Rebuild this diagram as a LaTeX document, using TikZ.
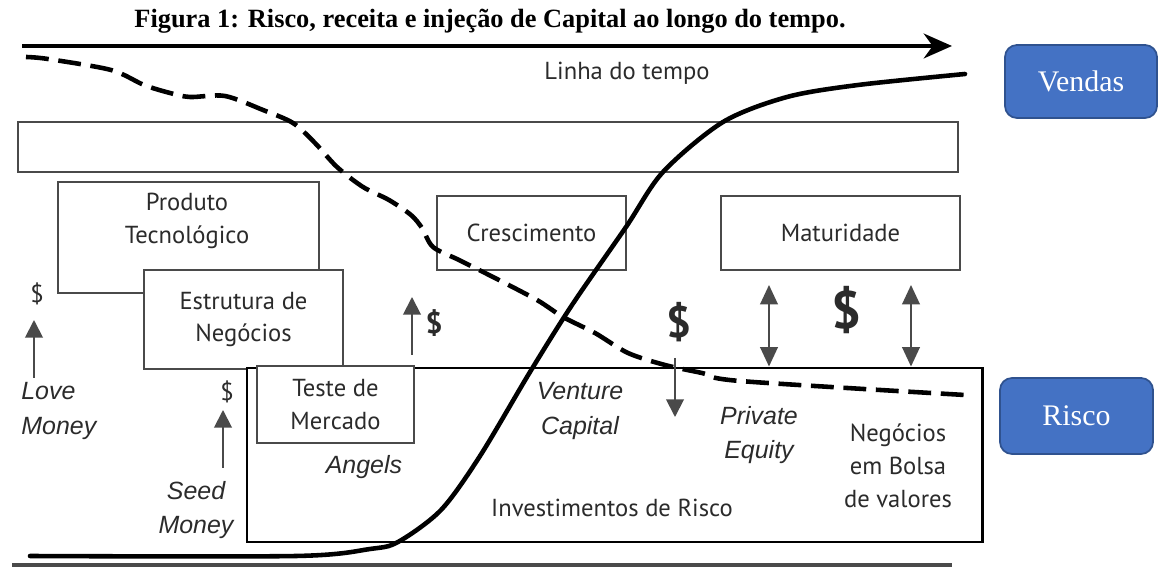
\documentclass[tikz,border=0pt]{standalone}
\usepackage{fontspec}
\setmainfont{Liberation Serif}
\newfontfamily\diagsans{PT Sans}
\newfontfamily\diagital{Liberation Sans}
\usepackage{tikz}
\usetikzlibrary{arrows.meta}
\usetikzlibrary{positioning}

\definecolor{boxgray}{HTML}{4A4A4A}
\definecolor{txtgray}{HTML}{2B2B2B}
\definecolor{tagblue}{HTML}{4472C4}
\definecolor{tagborder}{HTML}{2F528F}

\tikzset{
	stagebox/.style={draw=boxgray, line width=1.1pt, fill=white, align=center, text=txtgray,
		font=\diagsans\fontsize{14}{18.7}\selectfont},
	lbl/.style={align=center, inner sep=0pt, text=txtgray, font=\diagsans\fontsize{14}{18.7}\selectfont},
	ilbl/.style={lbl, font=\diagital\itshape\fontsize{14.2}{19.5}\selectfont},
	bluetag/.style={draw=tagborder, line width=1pt, fill=tagblue, rounded corners=2.4mm, text=white,
		font=\fontsize{17}{20}\selectfont},
	timearrow/.style={-{Stealth[length=16pt, width=14pt, inset=5pt]}, line width=2.6pt},
	moneyup/.style={-{Triangle[length=10pt, width=10pt]}, draw=boxgray, line width=1.1pt},
	moneyboth/.style={{Triangle[length=11pt, width=10pt]}-{Triangle[length=11pt, width=10pt]}, draw=boxgray, line width=1.1pt},
	riskline/.style={line width=2.6pt, dash pattern=on 13pt off 5.5pt},
	salesline/.style={line width=2.6pt, line cap=round}
}

\begin{document}
\begin{tikzpicture}[x=0.2mm, y=-0.2mm]
	\useasboundingbox (0,0) rectangle (1160,567);

	% titulo e linha do tempo
	\node[anchor=base, font=\bfseries\fontsize{15}{18}\selectfont] (titulo) at (490,28)
		{Figura 1: Risco, receita e injeção de Capital ao longo do tempo.};
	\coordinate (t0) at (22,46);
	\coordinate (t1) at (952,46);
	\draw[timearrow] (t0) -- (t1);
	\node[lbl] (linha) at (627,73) {Linha do tempo};

	% fases
	\path
	(488,147) node[stagebox, minimum width=188mm, minimum height=10mm] (faixa) {}
	(188.5,237.5) node[stagebox, minimum width=52.2mm, minimum height=22.2mm] (produto) {}
	(243.5,319.5) node[stagebox, minimum width=39.8mm, minimum height=19.8mm] (estrutura) {Estrutura de\\Negócios}
	(614.5,455) node[stagebox, line width=1.7pt, draw=black, minimum width=147mm, minimum height=34.8mm] (invest) {}
	(335.5,404.5) node[stagebox, minimum width=31.4mm, minimum height=15.4mm] (teste) {Teste de\\Mercado}
	(531.5,233) node[stagebox, minimum width=37.8mm, minimum height=14.8mm] (cresc) {Crescimento}
	(840.5,233) node[stagebox, minimum width=47.8mm, minimum height=14.8mm] (matur) {Maturidade};

	\node[lbl] (produtoTxt) at (187,221) {Produto\\Tecnológico};
	\node[lbl] (investTxt) at (612,508) {Investimentos de Risco};

	% investidores
	\node[lbl] (loveDollar) at (37,294) {\$};
	\node[ilbl, anchor=west, align=left] (loveTxt) at (21,411) {Love\\Money};
	\node[lbl] (seedDollar) at (227,392) {\$};
	\node[ilbl] (seedTxt) at (196,510) {Seed\\Money};
	\node[ilbl] (angels) at (364,467) {Angels};
	\node[lbl, font=\diagsans\bfseries\fontsize{17}{20}\selectfont] (angelDollar) at (434,323) {\$};
	\node[ilbl] (venture) at (580,411) {Venture\\Capital};
	\node[lbl, font=\diagsans\bfseries\fontsize{25}{28}\selectfont] (vcDollar) at (679,322) {\$};
	\node[lbl, font=\diagsans\bfseries\fontsize{30}{32}\selectfont] (peDollar) at (846,310) {\$};
	\node[ilbl] (private) at (759,435) {Private\\Equity};
	\node[lbl] (bolsa) at (898,466) {Negócios\\em Bolsa\\de valores};

	\coordinate (loveBase) at (34,378);
	\coordinate (loveTip) at (34,320);
	\coordinate (seedBase) at (223,468);
	\coordinate (seedTip) at (223,410);
	\coordinate (angelBase) at (412,355);
	\coordinate (angelTip) at (412,297);
	\coordinate (vcBase) at (675,358);
	\coordinate (vcTip) at (675,417);
	\coordinate (peTop) at (769,285);
	\coordinate (bolsaTop) at (911,285);

	\draw[moneyup] (loveBase) -- (loveTip);
	\draw[moneyup] (seedBase) -- (seedTip);
	\draw[moneyup] (angelBase) -- (angelTip);
	\draw[moneyup] (vcBase) -- (vcTip);
	\draw[moneyboth] (peTop) -- (peTop |- invest.north);
	\draw[moneyboth] (bolsaTop) -- (bolsaTop |- invest.north);

	% curvas de risco e vendas
	\draw[riskline] plot[smooth, tension=0.5] coordinates {(26,57) (48,59) (111,70) (144,85) (170,93)
		(190,97) (225,96) (263,110) (293,123) (315,143) (337,167) (363,187) (389,200) (411,215)
		(422,228) (433,247) (459,260) (493,277) (537,300) (563,317) (595,333) (628,353) (665,365)
		(702,373) (740,381) (965,395)};
	\draw[salesline] plot[smooth, tension=0.5] coordinates {(30,556) (296,556) (370,549) (398,542)
		(441,510) (480,456) (530,372) (572,305) (626,227) (663,172) (723,122) (787,97)
		(858,85) (965,74)};

	\draw[draw=boxgray, line width=2.2pt] (12,565) -- (952,565);

	% legenda
	\node[bluetag, minimum width=30.4mm, minimum height=14.6mm] (vendas) at (1081,81.5) {Vendas};
	\node[bluetag, minimum width=30.6mm, minimum height=15.2mm] (risco) at (1076.5,416) {Risco};
\end{tikzpicture}
\end{document}
